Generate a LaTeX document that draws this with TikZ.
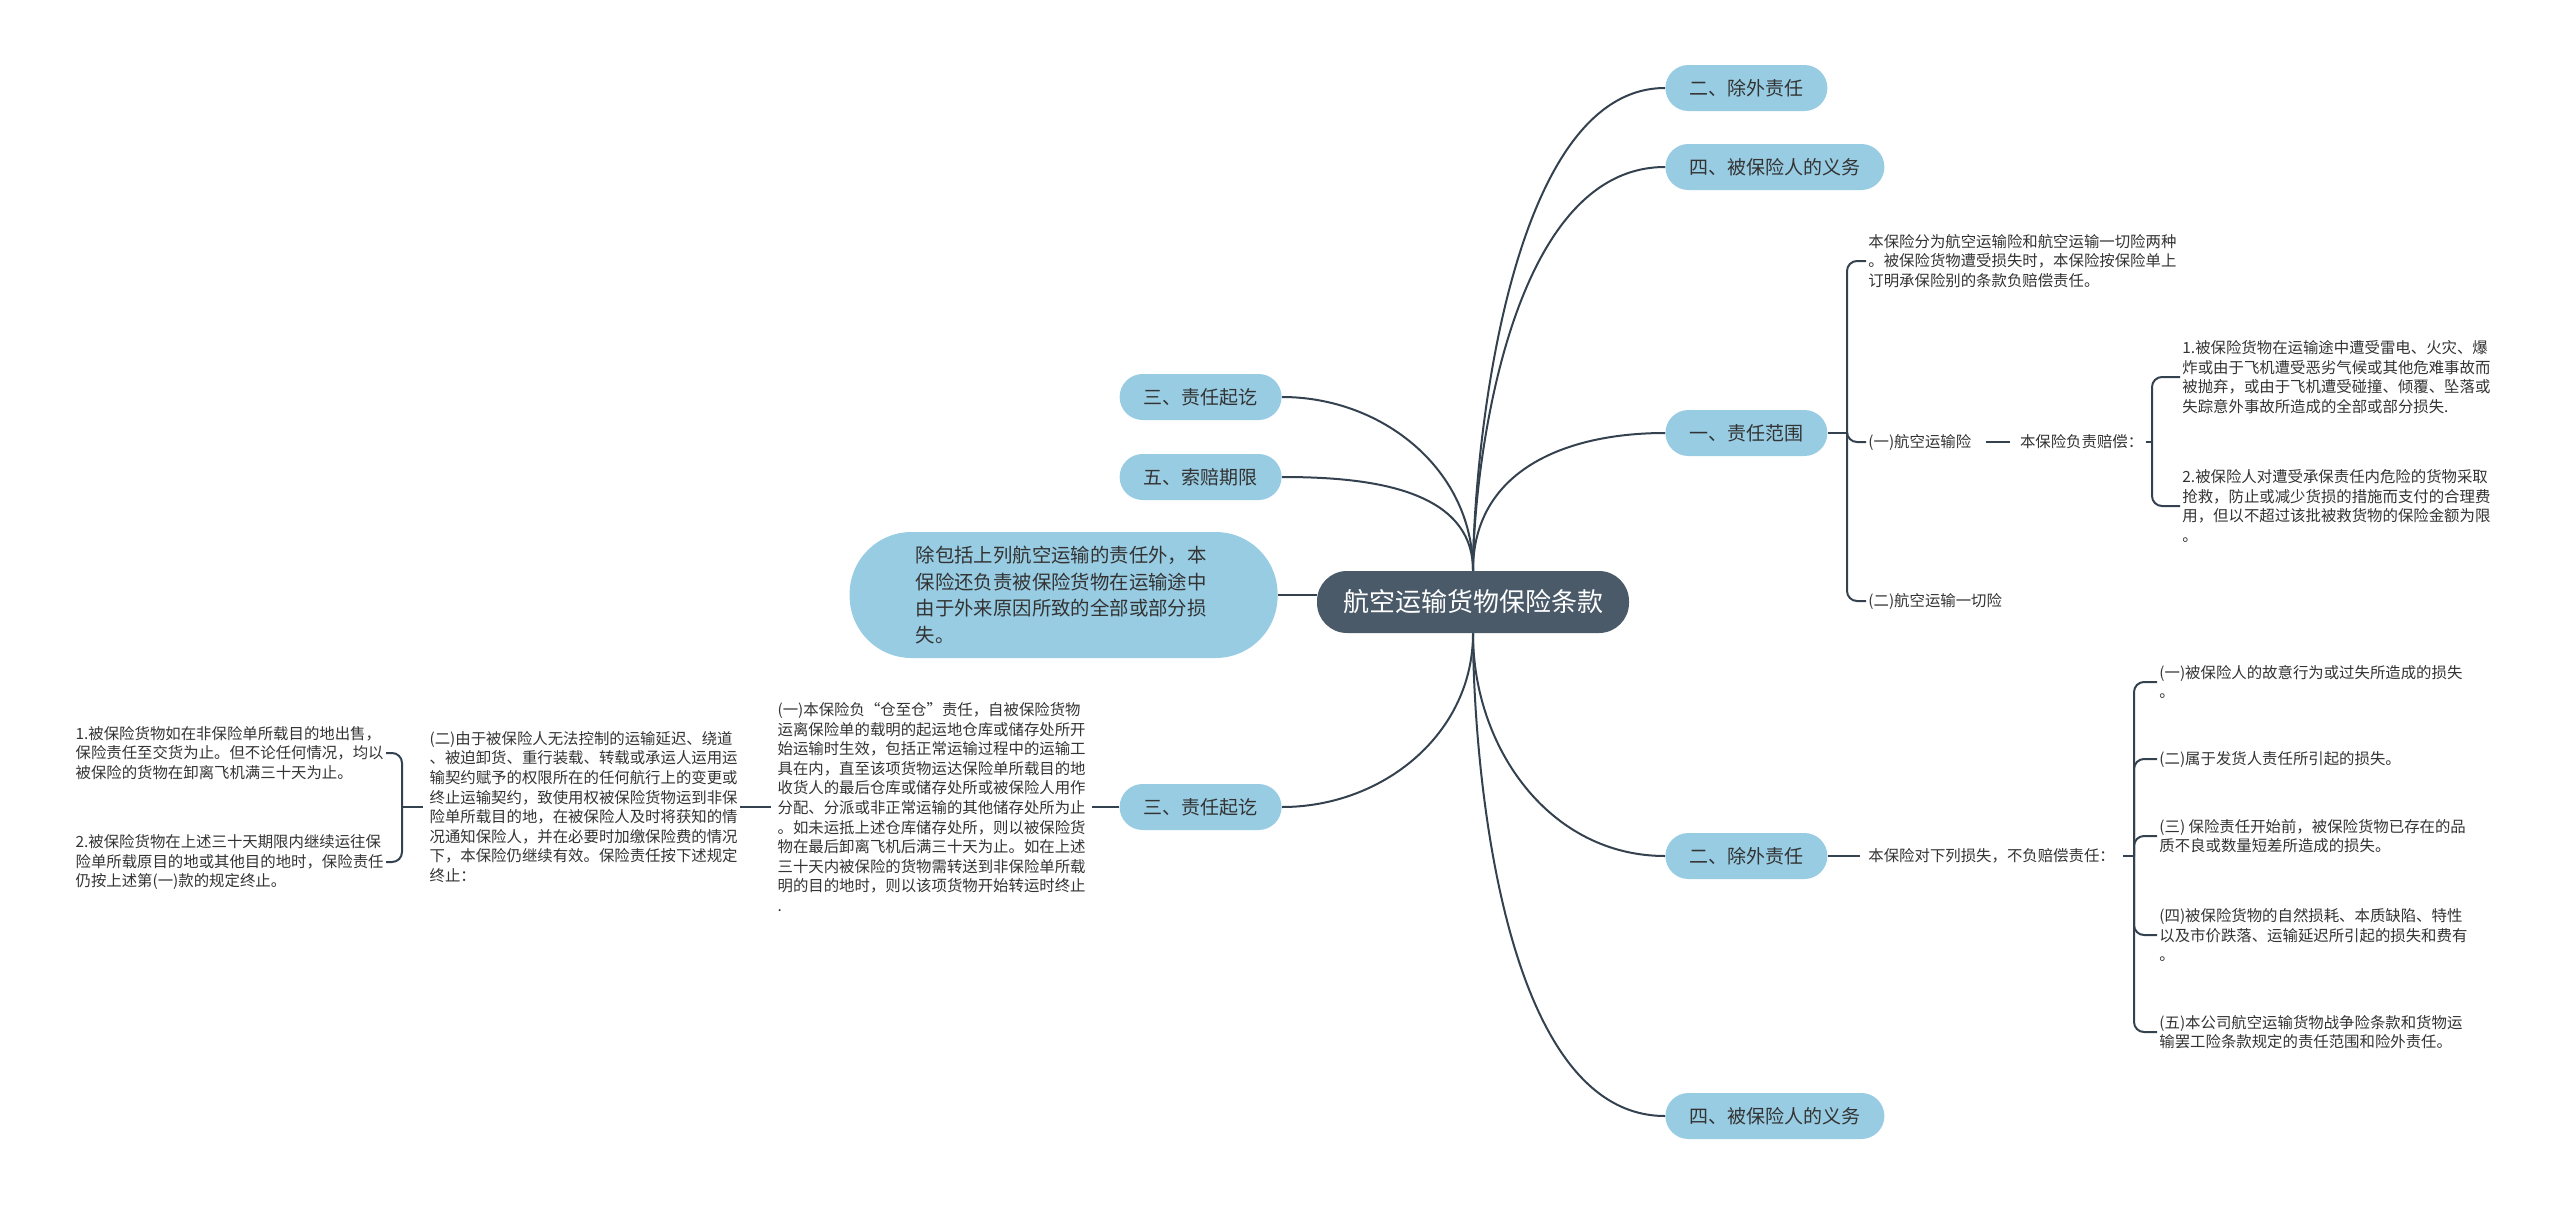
\documentclass[tikz,border=0pt]{standalone}
\usepackage{fontspec}
\setmainfont{Noto Sans CJK SC}
\usetikzlibrary{positioning}
\definecolor{nodeblue}{RGB}{152,204,227}
\definecolor{rootgray}{RGB}{74,90,105}
\definecolor{linegray}{RGB}{52,66,80}
\definecolor{textgray}{RGB}{51,51,51}

\begin{document}
\begin{tikzpicture}[x=0.5pt, y=-0.5pt,
  root/.style={fill=rootgray, text=white, rounded corners=15pt, minimum height=31pt, inner xsep=13pt, font=\fontsize{13}{15}\selectfont},
  topic/.style={fill=nodeblue, text=textgray, rounded corners=11.5pt, minimum height=23pt, inner xsep=12pt, font=\fontsize{9.5}{11}\selectfont},
  leaf/.style={align=left, inner sep=1pt, text=textgray, font=\fontsize{7.7}{9.8}\selectfont},
  link/.style={draw=linegray, line width=1pt},
  brace/.style={link, rounded corners=5pt}]
\useasboundingbox (0,0) rectangle (2560,1205);

\node[root] (root) at (1473,602) {航空运输货物保险条款};

\node[topic, anchor=west] (chuwai1) at (1665,88) {二、除外责任};
\node[topic, anchor=west] (yiwu1) at (1665,167) {四、被保险人的义务};
\node[topic, anchor=west] (fanwei) at (1665,433) {一、责任范围};
\node[topic, anchor=west] (chuwai2) at (1665,856) {二、除外责任};
\node[topic, anchor=west] (yiwu2) at (1665,1116) {四、被保险人的义务};
\node[topic, anchor=east] (qiqi1) at (1282,397) {三、责任起讫};
\node[topic, anchor=east] (suopei) at (1282,477) {五、索赔期限};
\node[topic, anchor=east] (qiqi2) at (1282,807) {三、责任起讫};
\node[topic, anchor=east, text width=148pt, align=left, inner xsep=33pt, minimum height=63pt, rounded corners=31pt, font=\fontsize{9.7}{13.3}\selectfont] (waizai) at (1278,595) {除包括上列航空运输的责任外，本\\保险还负责被保险货物在运输途中\\由于外来原因所致的全部或部分损\\失。};

\path[link]
(root.north) edge[out=90, in=180, out distance=52pt, in distance=80pt] (chuwai1.west)
(root.north) edge[out=90, in=180, out distance=45pt, in distance=80pt] (yiwu1.west)
(root.north) edge[out=90, in=180, out distance=50pt, in distance=50pt] (fanwei.west)
(root.north) edge[out=90, in=0] (qiqi1.east)
(root.north) edge[out=90, in=0] (suopei.east)
(root.south) edge[out=-90, in=180] (chuwai2.west)
(root.south) edge[out=-90, in=180, out distance=52pt, in distance=85pt] (yiwu2.west)
(root.south) edge[out=-90, in=0] (qiqi2.east)
(waizai.east) edge (waizai.east -| root.west);

% 一、责任范围
\node[leaf, anchor=west] (fw0) at (1866,261) {本保险分为航空运输险和航空运输一切险两种\\。被保险货物遭受损失时，本保险按保险单上\\订明承保险别的条款负赔偿责任。};
\node[leaf, anchor=west] (fw1) at (1866,442) {(一)航空运输险};
\node[leaf, right=22pt of fw1] (fw1a) {本保险负责赔偿：};
\node[leaf, anchor=west] (fw1b) at (2180,377) {1.被保险货物在运输途中遭受雷电、火灾、爆\\炸或由于飞机遭受恶劣气候或其他危难事故而\\被抛弃，或由于飞机遭受碰撞、倾覆、坠落或\\失踪意外事故所造成的全部或部分损失.};
\node[leaf, anchor=west] (fw1c) at (2180,506) {2.被保险人对遭受承保责任内危险的货物采取\\抢救，防止或减少货损的措施而支付的合理费\\用，但以不超过该批被救货物的保险金额为限\\。};
\node[leaf, anchor=west] (fw2) at (1866,601) {(二)航空运输一切险};
\coordinate (b1) at (1847,433);
\coordinate (b2) at (2152,442);
\draw[link] (fanwei.east) -- (b1);
\draw[brace] (b1) |- (fw0.west);
\draw[brace] (b1) |- (fw1.west);
\draw[brace] (b1) |- (fw2.west);
\draw[link, shorten <=6pt, shorten >=4pt] (fw1) -- (fw1a);
\draw[link] (fw1a.east) -- (b2);
\draw[brace] (b2) |- (fw1b.west);
\draw[brace] (b2) |- (fw1c.west);

% 二、除外责任
\node[leaf, anchor=west] (cw0) at (1866,856) {本保险对下列损失，不负赔偿责任：};
\node[leaf, anchor=west] (cw1) at (2157,682) {(一)被保险人的故意行为或过失所造成的损失\\。};
\node[leaf, anchor=west] (cw2) at (2157,759) {(二)属于发货人责任所引起的损失。};
\node[leaf, anchor=west] (cw3) at (2157,836) {(三) 保险责任开始前，被保险货物已存在的品\\质不良或数量短差所造成的损失。};
\node[leaf, anchor=west] (cw4) at (2157,935) {(四)被保险货物的自然损耗、本质缺陷、特性\\以及市价跌落、运输延迟所引起的损失和费有\\。};
\node[leaf, anchor=west] (cw5) at (2157,1032) {(五)本公司航空运输货物战争险条款和货物运\\输罢工险条款规定的责任范围和险外责任。};
\coordinate (b3) at (2134,856);
\draw[link, shorten >=3pt] (chuwai2.east) -- (cw0.west);
\draw[link, shorten <=3pt] (cw0.east) -- (b3);
\foreach \n in {cw1,cw2,cw3,cw4,cw5}
  \draw[brace] (b3) |- (\n.west);

% 三、责任起讫
\node[leaf, anchor=east] (qz0) at (1088,807) {(一)本保险负“仓至仓”责任，自被保险货物\\运离保险单的载明的起运地仓库或储存处所开\\始运输时生效，包括正常运输过程中的运输工\\具在内，直至该项货物运达保险单所载目的地\\收货人的最后仓库或储存处所或被保险人用作\\分配、分派或非正常运输的其他储存处所为止\\。如未运抵上述仓库储存处所，则以被保险货\\物在最后卸离飞机后满三十天为止。如在上述\\三十天内被保险的货物需转送到非保险单所载\\明的目的地时，则以该项货物开始转运时终止\\.};
\node[leaf, anchor=east] (qz1) at (740,807) {(二)由于被保险人无法控制的运输延迟、绕道\\、被迫卸货、重行装载、转载或承运人运用运\\输契约赋予的权限所在的任何航行上的变更或\\终止运输契约，致使用权被保险货物运到非保\\险单所载目的地，在被保险人及时将获知的情\\况通知保险人，并在必要时加缴保险费的情况\\下，本保险仍继续有效。保险责任按下述规定\\终止：};
\node[leaf, anchor=east] (qz1a) at (386,753) {1.被保险货物如在非保险单所载目的地出售，\\保险责任至交货为止。但不论任何情况，均以\\被保险的货物在卸离飞机满三十天为止。};
\node[leaf, anchor=east] (qz1b) at (386,862) {2.被保险货物在上述三十天期限内继续运往保\\险单所载原目的地或其他目的地时，保险责任\\仍按上述第(一)款的规定终止。};
\coordinate (b4) at (402,807);
\draw[link, shorten >=2pt] (qiqi2.west) -- (qz0.east);
\draw[link, shorten <=2pt] (qz0.west) -- (qz1.east);
\draw[link, shorten <=2pt] (qz1.west) -- (b4);
\draw[brace] (b4) |- (qz1a.east);
\draw[brace] (b4) |- (qz1b.east);
\end{tikzpicture}
\end{document}
